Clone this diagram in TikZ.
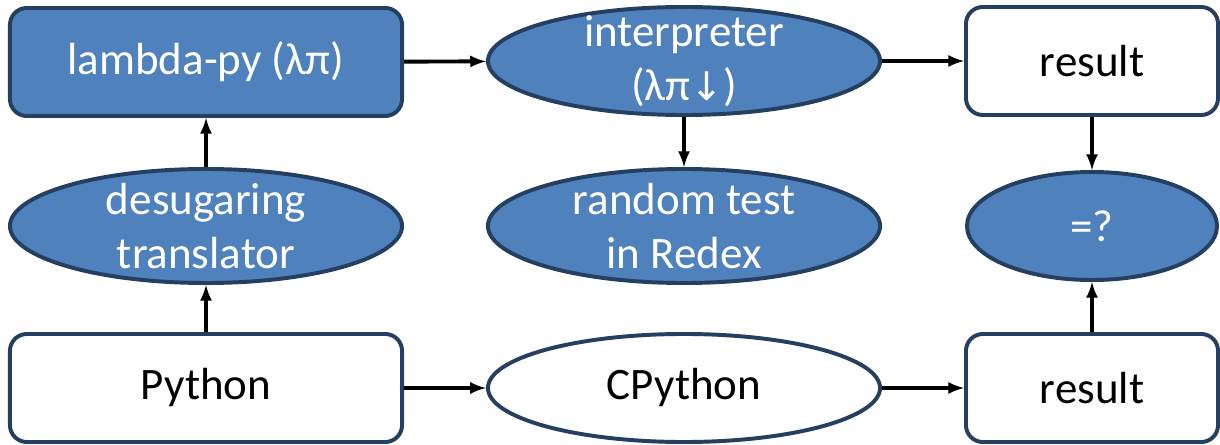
\documentclass[tikz,border=0pt]{standalone}
\usepackage{fontspec}
\setmainfont{Carlito}
\newfontfamily\symfont{DejaVu Sans}
\usetikzlibrary{arrows,shapes,positioning}
\definecolor{boxblue}{HTML}{4F81BD}
\definecolor{boxline}{HTML}{243F60}

\begin{document}
\begin{tikzpicture}[x=0.025cm,y=-0.025cm,>=latex,
  font=\fontsize{32}{38}\selectfont,
  bx/.style={draw=boxline,line width=2.8pt,rounded corners=12pt,minimum height=2.7cm},
  ell/.style={ellipse,draw=boxline,line width=2.8pt,inner xsep=0pt,inner ysep=-9pt,align=center},
  full/.style={fill=boxblue,text=white},
  arr/.style={->,line width=2.8pt}]
\useasboundingbox (0,0) rectangle (1220,445);
\node[bx,full,minimum width=9.8cm] (lam) at (206,62) {lambda-py (λπ)};
\node[ell,full,minimum width=9.8cm,minimum height=2.7cm] (interp) at (684,61) {interpreter\\(λπ{\symfont\fontsize{28}{38}\selectfont ↓})};
\node[bx,fill=white,minimum width=6.3cm] (res1) at (1092,61) {result};
\node[ell,full,minimum width=9.8cm,minimum height=2.85cm] (desug) at (206,226) {desugaring\\translator};
\node[ell,full,minimum width=9.8cm,minimum height=2.85cm] (rand) at (684,226) {random test\\in Redex};
\node[ell,full,minimum width=6.25cm,minimum height=2.7cm] (eq) at (1092,226) {=?};
\node[bx,fill=white,minimum width=9.8cm] (py) at (206,388) {Python};
\node[ell,fill=white,minimum width=9.8cm,minimum height=2.7cm] (cpy) at (684,388) {CPython};
\node[bx,fill=white,minimum width=6.3cm] (res2) at (1092,388) {result};
\draw[arr] (lam) -- (interp);
\draw[arr] (interp) -- (res1);
\draw[arr] (interp) -- (rand);
\draw[arr] (res1) -- (eq);
\draw[arr] (res2) -- (eq);
\draw[arr] (py) -- (desug);
\draw[arr] (desug) -- (lam);
\draw[arr] (py) -- (cpy);
\draw[arr] (cpy) -- (res2);
\end{tikzpicture}
\end{document}
